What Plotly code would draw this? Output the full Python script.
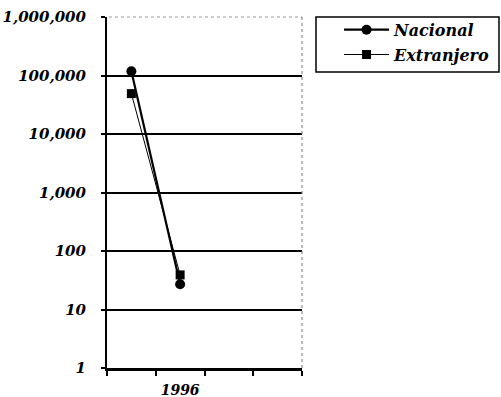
import numpy as np
import plotly.graph_objects as go

# Periods on the horizontal axis (only 1996 is labelled)
period_labels = ["", "1996", "", ""]
# Series values (log scale)
nacional = [118000, 27]
extranjero = [49000, 39]
# Y-axis ticks
y_ticks = [1, 10, 100, 1000, 10000, 100000, 1000000]
y_tick_text = ["1", "10", "100", "1,000", "10,000", "100,000", "1,000,000"]

x_centers = np.arange(len(period_labels)) + 0.5
x_pts = x_centers[:len(nacional)]

FONT = "DejaVu Serif"

fig = go.Figure()
fig.add_trace(go.Scatter(
    x=x_pts, y=nacional, name="<b><i>Nacional</i></b>", mode="lines+markers",
    legendgroup="nac",
    line=dict(color="black", width=2.2),
    marker=dict(symbol="circle", size=10, color="black"),
))
fig.add_trace(go.Scatter(
    x=x_pts, y=extranjero, name="<b><i>Extranjero</i></b>", mode="lines+markers",
    legendgroup="ext",
    line=dict(color="black", width=1),
    marker=dict(symbol="square", size=9, color="black"),
))

fig.update_layout(
    width=501, height=397,
    margin=dict(l=107, r=199, t=17, b=29, autoexpand=False),
    paper_bgcolor="white", plot_bgcolor="white",
    font=dict(family=FONT, size=15, color="black"),
    showlegend=True,
    legend=dict(
        x=1.19, y=1.012, xanchor="left", yanchor="top",
        borderwidth=0, bgcolor="rgba(0,0,0,0)",
        font=dict(family=FONT, size=16, color="black"),
        itemwidth=45, tracegroupgap=1,
    ),
    xaxis=dict(
        range=[0, len(period_labels)],
        tickvals=x_centers, ticktext=["<b><i>%s</i></b>" % t if t else "" for t in period_labels],
        ticks="", showgrid=False, zeroline=False, automargin=False,
        showline=True, linecolor="black", linewidth=2.5,
        tickfont=dict(family=FONT, size=14, color="black"),
        ticklabelstandoff=7,
        minor=dict(tickvals=list(range(len(period_labels) + 1)), ticks="outside",
                   ticklen=5, tickwidth=1.5, tickcolor="black", showgrid=False),
    ),
    yaxis=dict(
        type="log", range=[0, 6], automargin=False,
        tickvals=y_ticks,
        ticktext=["<b><i>%s</i></b>" % t for t in y_tick_text],
        ticks="outside", ticklen=4, tickcolor="black", tickwidth=1.5,
        showgrid=True, gridcolor="black", gridwidth=1.5,
        showline=True, linecolor="black", linewidth=2,
        zeroline=False,
        tickfont=dict(family=FONT, size=15, color="black"),
        ticklabelstandoff=12,
    ),
)

# Light dotted frame on the top and right edges of the plotting area
fig.add_shape(type="line", xref="paper", yref="paper", x0=0, x1=1, y0=1, y1=1,
              line=dict(color="white", width=3), layer="above")
fig.add_shape(type="line", xref="paper", yref="paper", x0=0.01, x1=1, y0=1, y1=1,
              line=dict(color="#999999", width=1, dash="dot"), layer="above")
fig.add_shape(type="line", xref="paper", yref="paper", x0=1, x1=1, y0=0, y1=1,
              line=dict(color="#777777", width=1, dash="dot"), layer="above")
# Legend frame
fig.add_shape(type="rect", xref="paper", yref="paper",
              x0=(316 - 107) / 195, x1=(499 - 107) / 195,
              y0=(368 - 72) / 351, y1=1.0,
              line=dict(color="black", width=1.5), layer="above")

fig.write_html("out.html")
